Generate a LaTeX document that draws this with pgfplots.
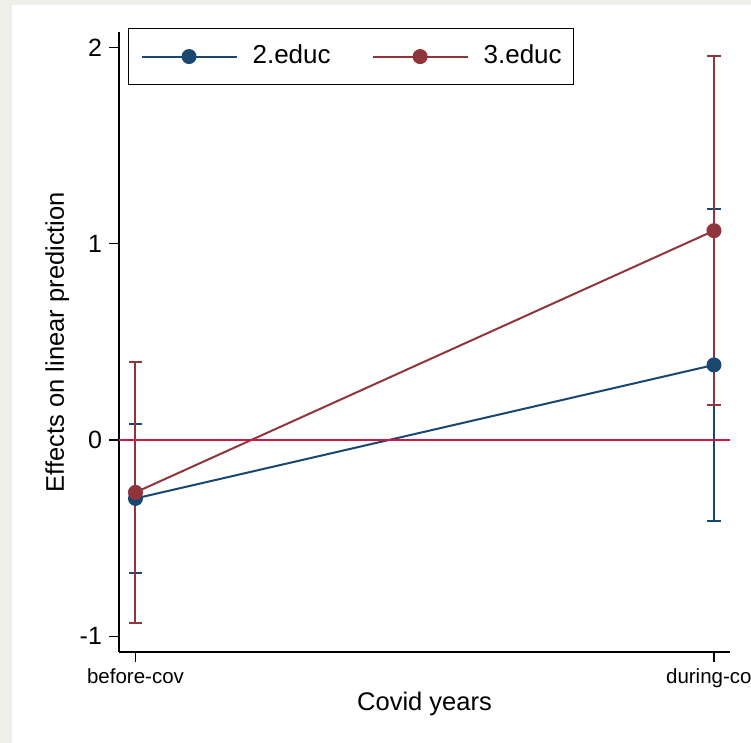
\documentclass[border=0pt]{standalone}
\usepackage{fontspec}
\setmainfont{Liberation Sans}
\usepackage{pgfplots}
\pgfplotsset{compat=1.18}
\definecolor{stnavy}{RGB}{26,71,111}
\definecolor{stmaroon}{RGB}{144,53,59}
\definecolor{zeroline}{RGB}{205,25,65}
\definecolor{bggray}{RGB}{239,239,234}
\begin{document}
\begin{tikzpicture}
\useasboundingbox (0,0) rectangle (375.5pt,371.5pt);
\fill[bggray] (0,0) rectangle (375.5pt,371.5pt);
\fill[white] (6pt,0) rectangle (375.5pt,369pt);
\begin{scope}
\clip (0,0) rectangle (375.5pt,371.5pt);
\begin{axis}[
  at={(59.5pt,45.5pt)}, anchor=south west,
  scale only axis, width=305.5pt, height=310pt,
  clip=false,
  xmin=-0.0285, xmax=1.0277, ymin=-1.08, ymax=2.078,
  axis x line*=bottom, axis y line*=left,
  axis line style={black, line width=0.7pt, -},
  xtick={0,1}, xticklabels={before-cov,during-cov},
  ytick={-1,0,1,2}, yticklabels={-1,0,1,2},
  tick align=outside, major tick length=5pt,
  tick style={black, line width=0.7pt},
  xticklabel style={font=\fontsize{10.25}{12}\selectfont},
  yticklabel style={font=\fontsize{12.5}{14}\selectfont},
  xlabel={Covid years}, ylabel={Effects on linear prediction},
  label style={font=\fontsize{12.75}{15}\selectfont},
  xlabel style={at={(axis description cs:0.5,-0.0839)}, anchor=center},
  ylabel style={at={(axis description cs:-0.101,0.5)}, anchor=center},
  legend columns=2,
  legend style={at={(axis description cs:0.0147,1.0065)}, anchor=north west,
    draw=black, line width=0.6pt, font=\fontsize{13}{15}\selectfont,
    inner xsep=6pt, inner ysep=8pt,
    nodes={inner sep=0pt, text height=9.5pt, text depth=2.5pt},
    /tikz/every odd column/.append style={column sep=7.5pt},
    /tikz/every even column/.append style={column sep=20.5pt}},
  legend image code/.code={\draw[#1, mark repeat=2, mark phase=2] plot coordinates {(0pt,0pt) (23.75pt,0pt) (47.5pt,0pt)};},
]
% confidence intervals
\addplot[only marks, mark=none, forget plot,
  error bars/.cd, y dir=both, y explicit, error mark=|,
  error bar style={stnavy, line width=1pt},
  error mark options={stnavy, line width=1pt, mark size=3.3pt}]
  coordinates {(0,-0.298) +- (0,0.380) (1,0.382) +- (0,0.795)};
\addplot[only marks, mark=none, forget plot,
  error bars/.cd, y dir=both, y explicit, error mark=|,
  error bar style={stmaroon, line width=1pt},
  error mark options={stmaroon, line width=1pt, mark size=3.3pt}]
  coordinates {(0,-0.267) +- (0,0.665) (1,1.066) +- (0,0.889)};
% point estimates
\addplot[stnavy, line width=1pt, mark=*, mark size=3.25pt, mark options={solid, fill=stnavy, draw=stnavy}]
  coordinates {(0,-0.298) (1,0.382)};
\addlegendentry{2.educ}
\addplot[stmaroon, line width=1pt, mark=*, mark size=3.25pt, mark options={solid, fill=stmaroon, draw=stmaroon}]
  coordinates {(0,-0.267) (1,1.066)};
\addlegendentry{3.educ}
\addplot[zeroline, line width=1pt, forget plot] coordinates {(-0.0285,0) (1.0277,0)};
\end{axis}
\end{scope}
\end{tikzpicture}
\end{document}
